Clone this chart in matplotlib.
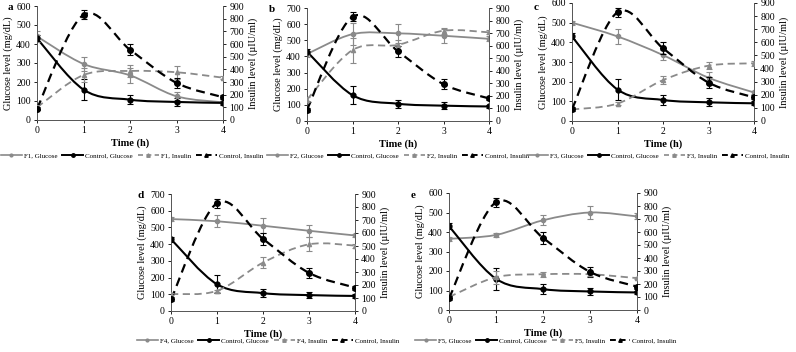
import matplotlib
matplotlib.use("Agg")
import matplotlib.pyplot as plt
from matplotlib.path import Path
from matplotlib.patches import PathPatch
from matplotlib.lines import Line2D

plt.rcParams["font.family"] = ["Liberation Serif", "DejaVu Serif"]

# data
time_h = [0, 1, 2, 3, 4]

ctrl_glu = [430, 160, 107, 95, 90]
ctrl_glu_err = [15, 55, 25, 20, 10]
ctrl_ins = [90, 830, 555, 293, 180]
ctrl_ins_err = [15, 35, 45, 40, 15]

f1_glu = [440, 295, 235, 125, 93]
f1_glu_err = [30, 35, 40, 20, 8]
f1_ins = [100, 355, 387, 377, 334]
f1_ins_err = [15, 55, 50, 50, 10]

f2_glu = [415, 538, 543, 528, 509]
f2_glu_err = [20, 70, 60, 45, 15]
f2_ins = [170, 565, 607, 719, 706]
f2_ins_err = [20, 100, 40, 25, 15]

f3_glu = [500, 430, 335, 220, 145]
f3_glu_err = [10, 40, 25, 30, 10]
f3_ins = [88, 133, 312, 422, 440]
f3_ins_err = [10, 10, 30, 25, 20]

f4_glu = [550, 537, 510, 480, 452]
f4_glu_err = [10, 35, 45, 35, 10]
f4_ins = [130, 155, 372, 513, 503]
f4_ins_err = [10, 10, 40, 55, 15]

f5_glu = [365, 385, 460, 500, 480]
f5_glu_err = [10, 10, 25, 35, 15]
f5_ins = [100, 252, 275, 275, 245]
f5_ins_err = [10, 50, 20, 15, 10]

panel_letters = ["a", "b", "c", "d", "e"]
panel_names = ["F1", "F2", "F3", "F4", "F5"]
glu_max = [600, 700, 600, 700, 600]

GRAY = "#8a8a8a"
W, H = 796, 352


def smooth_path(x, y):
    # Excel-like smoothed line as cubic Bezier segments through the data points
    n = len(x)
    verts = [(x[0], y[0])]
    codes = [Path.MOVETO]
    for i in range(n - 1):
        x0, y0 = (x[i - 1], y[i - 1]) if i > 0 else (x[i], y[i])
        x3, y3 = (x[i + 2], y[i + 2]) if i + 2 < n else (x[i + 1], y[i + 1])
        c1 = (x[i] + (x[i + 1] - x0) / 6, y[i] + (y[i + 1] - y0) / 6)
        c2 = (x[i + 1] - (x3 - x[i]) / 6, y[i + 1] - (y3 - y[i]) / 6)
        verts += [c1, c2, (x[i + 1], y[i + 1])]
        codes += [Path.CURVE4] * 3
    return Path(verts, codes)


def draw_series(ax, y, err, color, ls, lw, marker, ms):
    ax.add_patch(PathPatch(smooth_path(time_h, y), fill=False, edgecolor=color,
                           linestyle=ls, linewidth=lw, zorder=3))
    ax.errorbar(time_h, y, yerr=err, fmt=marker, color=color, ms=ms,
                ecolor=color, elinewidth=0.8, capsize=2, capthick=0.8, zorder=4)


# axes boxes in pixels: left, right, top, bottom
boxes = [(37, 223, 6, 120), (307, 489, 8, 121), (572, 754, 3, 121),
         (171, 355, 194, 311), (449, 637, 193, 310)]
label_pos = [(8, 8), (269, 10), (534, 8), (137, 195), (411, 195)]
legend_x = [132, 398, 658, 268, 546]

fig = plt.figure(figsize=(W / 100, H / 100), dpi=100)

glu_all = [f1_glu, f2_glu, f3_glu, f4_glu, f5_glu]
glu_err_all = [f1_glu_err, f2_glu_err, f3_glu_err, f4_glu_err, f5_glu_err]
ins_all = [f1_ins, f2_ins, f3_ins, f4_ins, f5_ins]
ins_err_all = [f1_ins_err, f2_ins_err, f3_ins_err, f4_ins_err, f5_ins_err]

for k in range(5):
    l, r, t, b = boxes[k]
    ax = fig.add_axes([l / W, 1 - b / H, (r - l) / W, (b - t) / H])
    ax2 = ax.twinx()
    ax.set_xlim(0, 4)
    ax.set_ylim(0, glu_max[k])
    ax2.set_ylim(0, 900)
    ax.set_xticks(time_h)
    ax.set_yticks(range(0, glu_max[k] + 1, 100))
    ax2.set_yticks(range(0, 901, 100))
    for a in (ax, ax2):
        a.spines["top"].set_visible(False)
        a.tick_params(labelsize=7, length=2.5, width=0.6, pad=2)
        for s in a.spines.values():
            s.set_linewidth(0.6)
            s.set_color("#555555")

    draw_series(ax, glu_all[k], glu_err_all[k], GRAY, "-", 1.3, "o", 3)
    draw_series(ax, ctrl_glu, ctrl_glu_err, "black", "-", 1.5, "o", 3.5)
    draw_series(ax2, ins_all[k], ins_err_all[k], GRAY, (0, (4, 2.5)), 1.3, "^", 3)
    draw_series(ax2, ctrl_ins, ctrl_ins_err, "black", (0, (4, 2.5)), 1.6, "o", 4)

    ax.set_xlabel("Time (h)", fontsize=7.5, fontweight="bold", labelpad=2)
    ax.set_ylabel("Glucose level (mg/dL)", fontsize=7.5, labelpad=2)
    ax2.set_ylabel("Insulin level (µIU/ml)", fontsize=7.5, labelpad=3)

    name = panel_names[k]
    handles = [
        Line2D([], [], color=GRAY, lw=1.2, marker="o", ms=2),
        Line2D([], [], color="black", lw=1.4, marker="o", ms=2.5),
        Line2D([], [], color=GRAY, lw=1.2, ls=(0, (3, 2)), marker="^", ms=2.5),
        Line2D([], [], color="black", lw=1.4, ls=(0, (3, 2)), marker="^", ms=2.5),
    ]
    labels = [f"{name}, Glucose", "Control, Glucose", f"{name}, Insulin", "Control, Insulin"]
    leg_y = 1 - (155 if k < 3 else 340) / H
    fig.legend(handles, labels, loc="center", bbox_to_anchor=(legend_x[k] / W, leg_y),
               ncol=4, frameon=False, fontsize=5, handlelength=3.0, handletextpad=0.3,
               columnspacing=0.7, borderaxespad=0, borderpad=0)

    px, py = label_pos[k]
    fig.text(px / W, 1 - py / H, panel_letters[k], fontsize=8, fontweight="bold",
             ha="left", va="center")

fig.savefig("out.png", dpi=100)
